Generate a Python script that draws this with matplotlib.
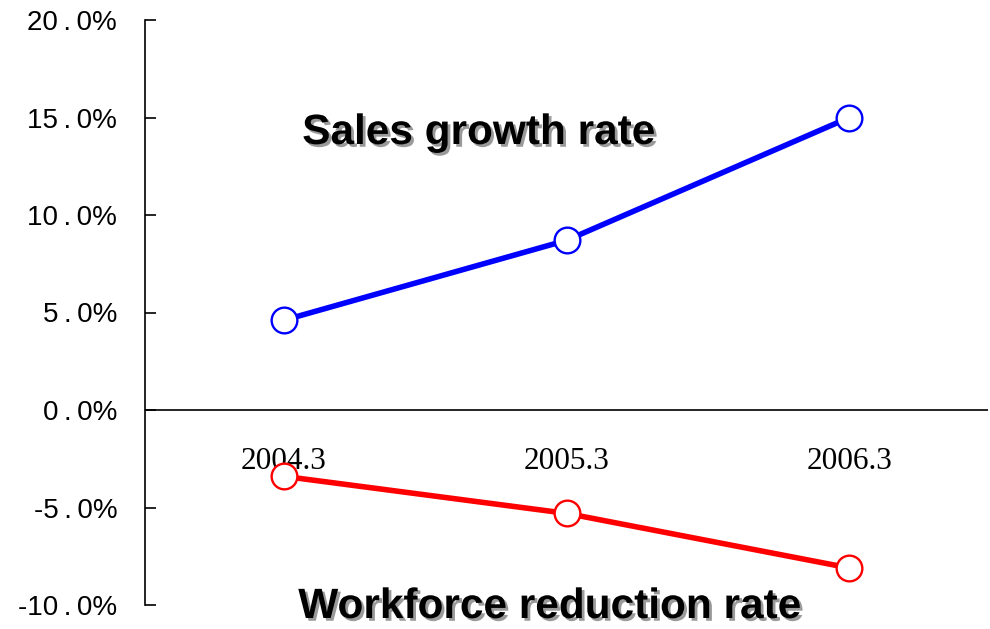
import matplotlib
matplotlib.use("Agg")
import matplotlib.pyplot as plt
import matplotlib.patheffects as pe
from matplotlib.ticker import FuncFormatter

periods = ["2004.3", "2005.3", "2006.3"]
sales_growth = [4.6, 8.7, 15.0]
workforce_reduction = [-3.4, -5.3, -8.1]
y_ticks = [-10, -5, 0, 5, 10, 15, 20]

fig = plt.figure(figsize=(9.9, 6.29), dpi=100)
ax = fig.add_axes([145 / 990, 1 - 605 / 629, (988 - 145) / 990, (605 - 20) / 629])

x = list(range(len(periods)))
style = dict(lw=4, marker="o", ms=18.5, mfc="white", mew=1.7, zorder=3, clip_on=False)
ax.plot(x, sales_growth, color="#0000ff", mec="#0000ff", **style)
ax.plot(x, workforce_reduction, color="#ff0000", mec="#ff0000", **style)

ax.set_xlim(-0.49, 2.49)
ax.set_ylim(-10, 20)
ax.set_yticks(y_ticks)
# percentage labels with a little air around the decimal point
ax.yaxis.set_major_formatter(
    FuncFormatter(lambda v, p: f"{v:.1f}%".replace(".", "\u2009.\u2009")))
ax.tick_params(axis="y", direction="in", length=8, width=1.2, pad=20,
               labelsize=20)
for lbl in ax.get_yticklabels():
    lbl.set_fontfamily(["Liberation Sans", "DejaVu Sans"])

ax.set_xticks([])
for s in ("top", "right", "bottom"):
    ax.spines[s].set_visible(False)
ax.spines["left"].set_linewidth(1.2)
ax.axhline(0, color="black", lw=1.2, zorder=1)

for xi, name in zip(x, periods):
    ax.text(xi, -2.65, name, ha="center", va="center", fontsize=22.5,
            family="Liberation Serif", zorder=2)

effects = [pe.SimplePatchShadow(offset=(2, -2), shadow_rgbFace="#9a9a9a", alpha=1.0),
           pe.Normal()]
t1 = fig.text(479 / 990, 1 - 144 / 629, "Sales growth rate", ha="center", va="baseline",
              fontsize=30.5, family="Liberation Sans", weight="bold")
t2 = fig.text(550 / 990, 1 - 618 / 629, "Workforce reduction rate", ha="center",
              va="baseline", fontsize=30.5, family="Liberation Sans", weight="bold")
for t in (t1, t2):
    t.set_path_effects(effects)

fig.savefig("out.png", dpi=100)
